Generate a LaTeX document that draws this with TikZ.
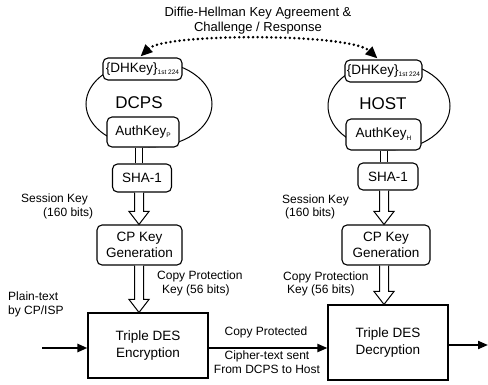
\documentclass[tikz,border=0pt]{standalone}
\usepackage{fontspec}
\setmainfont{Liberation Sans}
\usetikzlibrary{arrows.meta,shapes.geometric,calc}
\newcommand\subtxt[1]{\raisebox{-2.5pt}{\fontsize{6.5}{7}\selectfont #1}}
\newcommand\hollowarr[2]{%
  \draw[line width=1pt,fill=white] let \p1=(#1), \p2=(#2) in
    (\x1-4.5pt,\y1) -- (\x1-4.5pt,\y2+13pt) -- (\x1-10pt,\y2+13pt) -- (\x2,\y2)
    -- (\x1+10pt,\y2+13pt) -- (\x1+4.5pt,\y2+13pt) -- (\x1+4.5pt,\y1);}
\newcommand\pairlines[2]{%
  \draw[line width=1pt] let \p1=(#1), \p2=(#2) in
    (\x1-3.5pt,\y1) -- (\x1-3.5pt,\y2) (\x1+3.5pt,\y1) -- (\x1+3.5pt,\y2);}
\begin{document}
\begin{tikzpicture}[x=1pt,y=-1pt,
  rbox/.style={draw,line width=1.1pt,rounded corners=5pt,fill=white,inner sep=0pt,align=center,font=\fontsize{13.5}{16}\selectfont},
  sbox/.style={draw,line width=1.1pt,fill=white,inner sep=0pt,align=center,font=\fontsize{13.5}{17}\selectfont},
  lbl/.style={inner sep=0pt,anchor=west,font=\fontsize{12}{14}\selectfont},
  oval/.style={draw,ellipse,line width=1pt,inner sep=0pt},
  big/.style={inner sep=0pt,font=\fontsize{17}{20}\selectfont},
  solidarr/.style={line width=2pt,-{Triangle[length=10pt,width=8pt]}},
  dharr/.style={line width=2.8pt,dash pattern=on 0pt off 4.6pt,line cap=round,{Triangle[length=12pt,width=10pt]}-{Triangle[length=12pt,width=10pt]}},
]
\useasboundingbox (0,0) rectangle (488,384);
\coordinate (colL) at (139,0);
\coordinate (colR) at (384,0);

% title
\node[inner sep=0pt,align=center,font=\fontsize{13}{15}\selectfont] (title) at (258,20.5)
  {Diffie-Hellman Key Agreement \&\\Challenge / Response};

% ellipses
\node[oval,minimum width=126pt,minimum height=86pt] (ovL) at (149,104) {};
\node[oval,minimum width=122pt,minimum height=88pt] (ovR) at (389,106) {};

% boxes left
\node[rbox,minimum width=79pt,minimum height=22pt] (dhL) at (142.5,69) {\{DHKey\}\subtxt{1st 224}};
\node[big] (dcps) at (139,103) {DCPS};
\node[rbox,minimum width=72pt,minimum height=30pt] (authL) at (143,132) {AuthKey\subtxt{P}};
\node[rbox,minimum width=59pt,minimum height=28pt] (shaL) at (142,178) {SHA-1};
\node[rbox,minimum width=85pt,minimum height=40pt] (cpgL) at (139.5,245) {CP Key\\Generation};
\node[sbox,minimum width=120pt,minimum height=65pt] (encL) at (148,345.5) {Triple DES\\Encryption};

% boxes right
\node[rbox,minimum width=77pt,minimum height=22pt] (dhR) at (383.5,71) {\{DHKey\}\subtxt{1st 224}};
\node[big] (host) at (383,104) {HOST};
\node[rbox,minimum width=75pt,minimum height=31pt] (authR) at (383.5,134.5) {AuthKey\subtxt{H}};
\node[rbox,minimum width=60pt,minimum height=27pt] (shaR) at (388,176.5) {SHA-1};
\node[rbox,minimum width=88pt,minimum height=40pt] (cpgR) at (386,245) {CP Key\\Generation};
\node[sbox,minimum width=120pt,minimum height=75pt] (decR) at (388,342.5) {Triple DES\\Decryption};

% DH exchange
\draw[dharr] ($(dhL.north)+(-2,-1)$) .. controls (165,33) and (350,33) .. ($(dhR.north)+(-6,-1)$);

% vertical flow
\pairlines{colL |- authL.south}{colL |- shaL.north}
\pairlines{colR |- authR.south}{colR |- shaR.north}
\hollowarr{colL |- shaL.south}{colL |- cpgL.north}
\hollowarr{colR |- shaR.south}{colR |- cpgR.north}
\hollowarr{colL |- cpgL.south}{colL |- encL.north}
\hollowarr{colR |- cpgR.south}{colR |- decR.north}

% labels
\node[lbl] (skL1) at (21,199) {Session Key};
\node[lbl] (skL2) at (43,213) {(160 bits)};
\node[lbl] (skR1) at (282,200) {Session Key};
\node[lbl] (skR2) at (285,213) {(160 bits)};
\node[lbl] (cpL1) at (157,276) {Copy Protection};
\node[lbl] (cpL2) at (162,290) {Key (56 bits)};
\node[lbl] (cpR1) at (283,277) {Copy Protection};
\node[lbl] (cpR2) at (287,290) {Key (56 bits)};
\node[lbl,align=left] (plain) at (8,304) {Plain-text\\by CP/ISP};
\node[inner sep=0pt,font=\fontsize{12}{14}\selectfont] (cprot) at (266,332) {Copy Protected};
\node[inner sep=0pt,align=center,font=\fontsize{12}{14}\selectfont] (ctext) at (267,362) {Cipher-text sent\\From DCPS to Host};

% horizontal arrows
\coordinate (inS) at (42,348);
\coordinate (outE) at (488,345);
\draw[solidarr,line width=2.4pt] (inS) -- (inS -| encL.west);
\draw[solidarr] (encL.east |- inS) -- (decR.west |- inS);
\draw[solidarr] (decR.east |- outE) -- (outE);
\end{tikzpicture}
\end{document}
